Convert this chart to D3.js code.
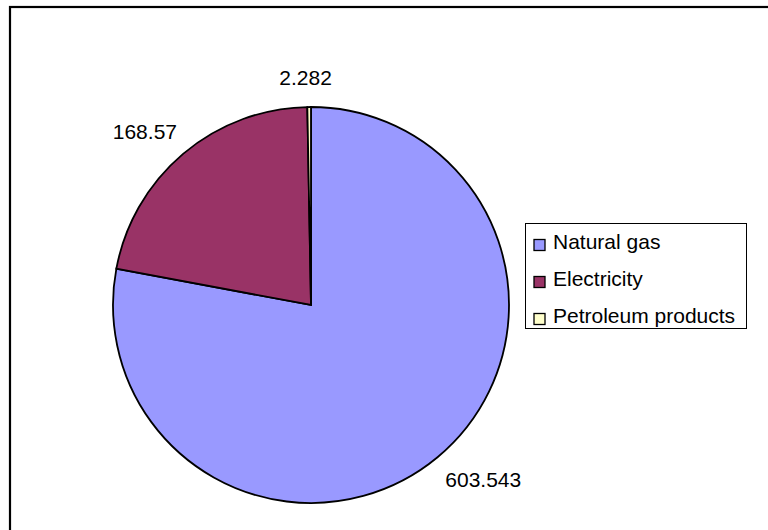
<!DOCTYPE html>
<html>
<head>
<meta charset="utf-8">
<script src="https://cdn.jsdelivr.net/npm/d3@7"></script>
<style>
  html, body { margin: 0; padding: 0; background: #fff; }
  svg { display: block; font-family: "Liberation Sans", Arial, sans-serif; }
</style>
</head>
<body>
<svg id="chart" width="768" height="530"></svg>
<script>
// Energy use by source
const categories = ["Natural gas", "Electricity", "Petroleum products"];
const values = [603.543, 168.57, 2.282];
const valueLabels = ["603.543", "168.57", "2.282"];
const colors = ["#9999FF", "#993366", "#FFFFCC"];

const svg = d3.select("#chart");
const W = 768, H = 530;

// chart area frame (only top and left edges fall inside the page)
svg.append("rect")
  .attr("x", 10).attr("y", 7)
  .attr("width", W + 20).attr("height", H + 20)
  .attr("fill", "#fff")
  .attr("stroke", "#000")
  .attr("stroke-width", 2.2);

const cx = 311, cy = 305, r = 198;
const fontSize = 21;

const data = categories.map((c, i) => ({ name: c, value: values[i], label: valueLabels[i], color: colors[i] }));

const pie = d3.pie().value(d => d.value).sort(null).startAngle(0).endAngle(2 * Math.PI);
const arc = d3.arc().innerRadius(0).outerRadius(r);
const color = d3.scaleOrdinal().domain(categories).range(colors);

const g = svg.append("g").attr("transform", `translate(${cx},${cy})`);
const arcs = pie(data);

g.selectAll("path.slice")
  .data(arcs)
  .join("path")
  .attr("class", "slice")
  .attr("d", arc)
  .attr("fill", d => color(d.data.name))
  .attr("stroke", "#000")
  .attr("stroke-width", 1.8)
  .attr("stroke-linejoin", "miter");

// value labels placed outside each slice along its mid-angle
const rx = r * 1.33, ry = r * 1.147, shiftX = 4;
g.selectAll("text.val")
  .data(arcs)
  .join("text")
  .attr("class", "val")
  .attr("x", d => {
    const a = (d.startAngle + d.endAngle) / 2;
    const s = Math.sin(a);
    return rx * s + (Math.abs(s) > 0.2 ? shiftX : -3);
  })
  .attr("y", d => { const a = (d.startAngle + d.endAngle) / 2; return -ry * Math.cos(a); })
  .attr("dy", "0.36em")
  .attr("text-anchor", "middle")
  .attr("font-size", fontSize)
  .attr("fill", "#000")
  .text(d => d.data.label);

// legend
const lx = 525, ly = 223, lw = 221, lh = 105;
const legend = svg.append("g");
legend.append("rect")
  .attr("x", lx + 0.5).attr("y", ly + 0.5)
  .attr("width", lw).attr("height", lh)
  .attr("fill", "#fff")
  .attr("stroke", "#000")
  .attr("stroke-width", 1);

const rowY = d3.scalePoint().domain(categories).range([ly + 22, ly + 96]);
const sw = 11;
const rows = legend.selectAll("g.row")
  .data(categories)
  .join("g")
  .attr("class", "row")
  .attr("transform", c => `translate(0,${rowY(c)})`);

rows.append("rect")
  .attr("x", 534).attr("y", -sw / 2)
  .attr("width", sw).attr("height", sw)
  .attr("fill", c => color(c))
  .attr("stroke", "#000")
  .attr("stroke-width", 1.3);

rows.append("text")
  .attr("x", 553).attr("y", 4)
  .attr("font-size", fontSize)
  .attr("fill", "#000")
  .text(c => c);
</script>
</body>
</html>
